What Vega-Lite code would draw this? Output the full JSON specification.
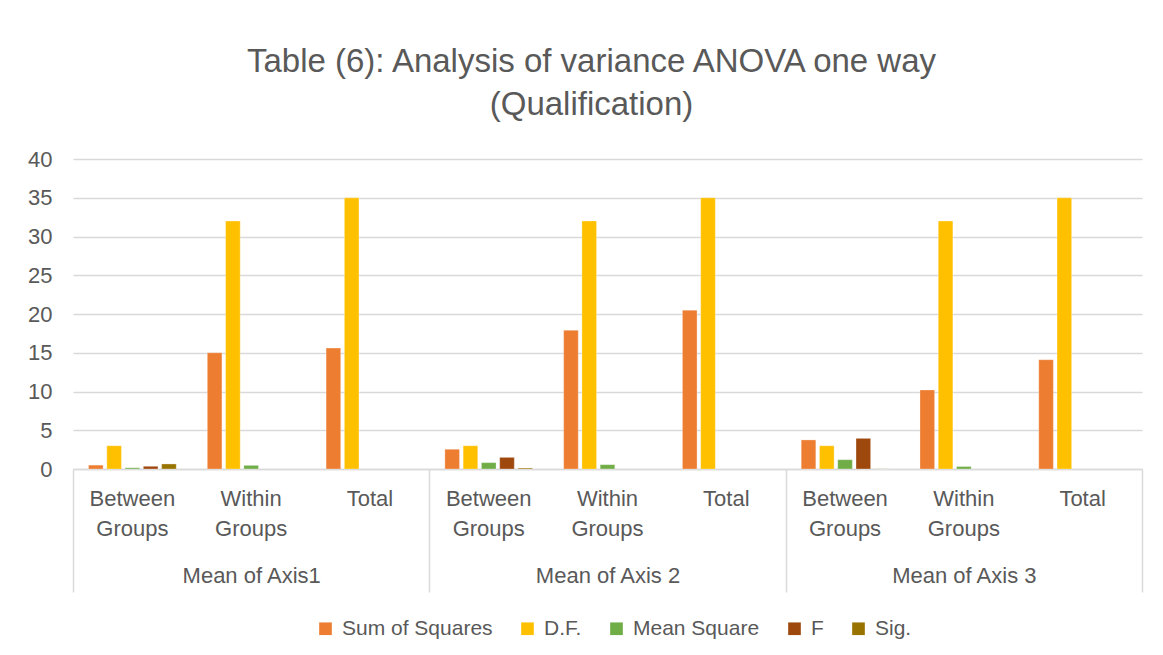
{
  "$schema": "https://vega.github.io/schema/vega-lite/v6.json",
  "autosize": {"type": "none"},
  "width": 1069,
  "height": 310,
  "padding": {"left": 73, "top": 159, "right": 21, "bottom": 186},
  "background": "white",
  "config": {
    "font": "Liberation Sans",
    "view": {"stroke": null},
    "axis": {"labelFont": "Liberation Sans", "labelColor": "#595959"},
    "legend": {"labelFont": "Liberation Sans", "labelColor": "#595959"}
  },
  "title": {
    "text": ["Table (6): Analysis of variance ANOVA one way", "(Qualification)"],
    "font": "Liberation Sans",
    "fontSize": 33,
    "fontWeight": "normal",
    "color": "#595959",
    "lineHeight": 43,
    "anchor": "middle",
    "dx": -16,
    "offset": 26
  },
  "data": {
    "values": [
      {"g": "Mean of Axis1", "s": "Between Groups", "series": "Sum of Squares", "v": 0.5},
      {"g": "Mean of Axis1", "s": "Between Groups", "series": "D.F.", "v": 3},
      {"g": "Mean of Axis1", "s": "Between Groups", "series": "Mean Square", "v": 0.16},
      {"g": "Mean of Axis1", "s": "Between Groups", "series": "F", "v": 0.35},
      {"g": "Mean of Axis1", "s": "Between Groups", "series": "Sig.", "v": 0.65},
      {"g": "Mean of Axis1", "s": "Within Groups", "series": "Sum of Squares", "v": 15.0},
      {"g": "Mean of Axis1", "s": "Within Groups", "series": "D.F.", "v": 32},
      {"g": "Mean of Axis1", "s": "Within Groups", "series": "Mean Square", "v": 0.47},
      {"g": "Mean of Axis1", "s": "Total", "series": "Sum of Squares", "v": 15.6},
      {"g": "Mean of Axis1", "s": "Total", "series": "D.F.", "v": 35},
      {"g": "Mean of Axis 2", "s": "Between Groups", "series": "Sum of Squares", "v": 2.55},
      {"g": "Mean of Axis 2", "s": "Between Groups", "series": "D.F.", "v": 3},
      {"g": "Mean of Axis 2", "s": "Between Groups", "series": "Mean Square", "v": 0.82},
      {"g": "Mean of Axis 2", "s": "Between Groups", "series": "F", "v": 1.5},
      {"g": "Mean of Axis 2", "s": "Between Groups", "series": "Sig.", "v": 0.12},
      {"g": "Mean of Axis 2", "s": "Within Groups", "series": "Sum of Squares", "v": 17.9},
      {"g": "Mean of Axis 2", "s": "Within Groups", "series": "D.F.", "v": 32},
      {"g": "Mean of Axis 2", "s": "Within Groups", "series": "Mean Square", "v": 0.56},
      {"g": "Mean of Axis 2", "s": "Total", "series": "Sum of Squares", "v": 20.5},
      {"g": "Mean of Axis 2", "s": "Total", "series": "D.F.", "v": 35},
      {"g": "Mean of  Axis 3", "s": "Between Groups", "series": "Sum of Squares", "v": 3.75},
      {"g": "Mean of  Axis 3", "s": "Between Groups", "series": "D.F.", "v": 3},
      {"g": "Mean of  Axis 3", "s": "Between Groups", "series": "Mean Square", "v": 1.2},
      {"g": "Mean of  Axis 3", "s": "Between Groups", "series": "F", "v": 3.95},
      {"g": "Mean of  Axis 3", "s": "Between Groups", "series": "Sig.", "v": 0.02},
      {"g": "Mean of  Axis 3", "s": "Within Groups", "series": "Sum of Squares", "v": 10.2},
      {"g": "Mean of  Axis 3", "s": "Within Groups", "series": "D.F.", "v": 32},
      {"g": "Mean of  Axis 3", "s": "Within Groups", "series": "Mean Square", "v": 0.32},
      {"g": "Mean of  Axis 3", "s": "Total", "series": "Sum of Squares", "v": 14.1},
      {"g": "Mean of  Axis 3", "s": "Total", "series": "D.F.", "v": 35}
    ]
  },
  "transform": [{"calculate": "datum.g + '|' + datum.s", "as": "k"}],
  "resolve": {"scale": {"x": "independent"}, "axis": {"x": "independent"}},
  "layer": [
    {
      "mark": {"type": "bar", "stroke": "white", "strokeOpacity": 0.6, "strokeWidth": 0.5},
      "encoding": {
        "x": {
          "field": "k", "type": "nominal", "sort": null,
          "scale": {"paddingInner": 0, "paddingOuter": 0},
          "axis": {
            "orient": "bottom", "title": null, "ticks": false,
            "domain": true, "domainColor": "#D9D9D9", "domainWidth": 1.5,
            "labelAngle": 0, "labelFontSize": 22, "labelPadding": 19,
            "labelLineHeight": 30, "labelBaseline": "top",
            "labelOverlap": false, "labelFlush": false, "labelLimit": 0,
            "labelExpr": "split(split(datum.value, '|')[1], ' ')"
          }
        },
        "xOffset": {
          "field": "series", "type": "nominal",
          "sort": ["Sum of Squares", "D.F.", "Mean Square", "F", "Sig."],
          "scale": {"paddingInner": 0.2, "paddingOuter": 0.85}
        },
        "y": {
          "field": "v", "type": "quantitative",
          "scale": {"domain": [0, 40], "nice": false},
          "axis": {
            "title": null, "values": [0, 5, 10, 15, 20, 25, 30, 35, 40],
            "tickCount": 20,
            "domain": false, "ticks": false, "grid": true,
            "gridColor": "#D9D9D9", "gridWidth": 1.5,
            "labelOverlap": false,
            "labelFontSize": 22, "labelPadding": 21
          }
        },
        "color": {
          "field": "series", "type": "nominal",
          "sort": ["Sum of Squares", "D.F.", "Mean Square", "F", "Sig."],
          "scale": {
            "domain": ["Sum of Squares", "D.F.", "Mean Square", "F", "Sig."],
            "range": ["#ED7D31", "#FFC000", "#70AD47", "#9E480E", "#997300"]
          },
          "legend": {
            "title": null, "orient": "none", "direction": "horizontal",
            "legendX": 242, "legendY": 459,
            "symbolType": "square", "symbolSize": 160, "symbolStrokeWidth": 0,
            "labelFontSize": 21, "labelOffset": 6, "columnPadding": 24,
            "padding": 0
          }
        }
      }
    },
    {
      "mark": {"type": "point", "opacity": 0},
      "encoding": {
        "x": {
          "field": "g", "type": "nominal", "sort": null,
          "scale": {"paddingInner": 0, "paddingOuter": 0},
          "axis": {
            "orient": "bottom", "title": null, "domain": false,
            "tickBand": "extent", "tickSize": 123, "tickColor": "#D9D9D9", "tickWidth": 1.5,
            "labelAngle": 0, "labelFontSize": 22, "labelPadding": -27,
            "labelBaseline": "top", "labelOverlap": false, "labelFlush": false, "labelLimit": 0
          }
        }
      }
    }
  ]
}
